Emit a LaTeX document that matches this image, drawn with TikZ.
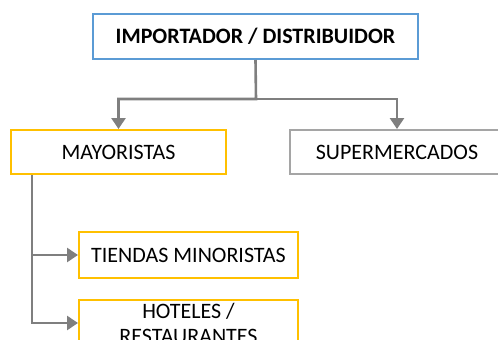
\documentclass[tikz,border=0pt]{standalone}
\usepackage{fontspec}
\setmainfont{Carlito}
\usetikzlibrary{arrows.meta}
\definecolor{cblue}{HTML}{5B9BD5}
\definecolor{cgold}{HTML}{FFC000}
\definecolor{cgray}{HTML}{A5A5A5}
\definecolor{carrow}{HTML}{7F7F7F}
\begin{document}
\begin{tikzpicture}[x=1pt,y=-1pt,
  box/.style={draw, line width=2pt, fill=white, inner sep=0pt, align=center,
    font=\fontsize{22}{25}\selectfont, text=black},
  conn/.style={draw=carrow, line width=2.6pt, -{Triangle[length=11pt,width=14pt]}}]
\useasboundingbox (0,0) rectangle (498,340);
\begin{scope}
\clip (0,0) rectangle (498,340);
\node[box, draw=cblue, minimum width=325pt, minimum height=45pt, font=\fontsize{22}{25}\selectfont\bfseries] (top) at (255.5,36.5) {IMPORTADOR / DISTRIBUIDOR};
\node[box, draw=cgold, minimum width=215pt, minimum height=44pt] (may) at (118.5,152) {MAYORISTAS};
\node[box, draw=cgray, minimum width=214pt, minimum height=44pt] (sup) at (397,152) {SUPERMERCADOS};
\node[box, draw=cgold, minimum width=219pt, minimum height=46pt] (tie) at (188.5,255) {TIENDAS MINORISTAS};
\node[box, draw=cgold, minimum width=219pt, minimum height=46pt] (hot) at (188.5,323) {HOTELES /\\RESTAURANTES};
\coordinate (split) at (256,99);
\draw[conn] (top.south) -- (split) -| (may.north);
\draw[conn] (split) -| (sup.north);
\coordinate (mstart) at ([xshift=22pt]may.south west);
\draw[conn] (mstart) |- (tie.west);
\draw[conn] (mstart) |- (hot.west);
\end{scope}
\end{tikzpicture}
\end{document}
